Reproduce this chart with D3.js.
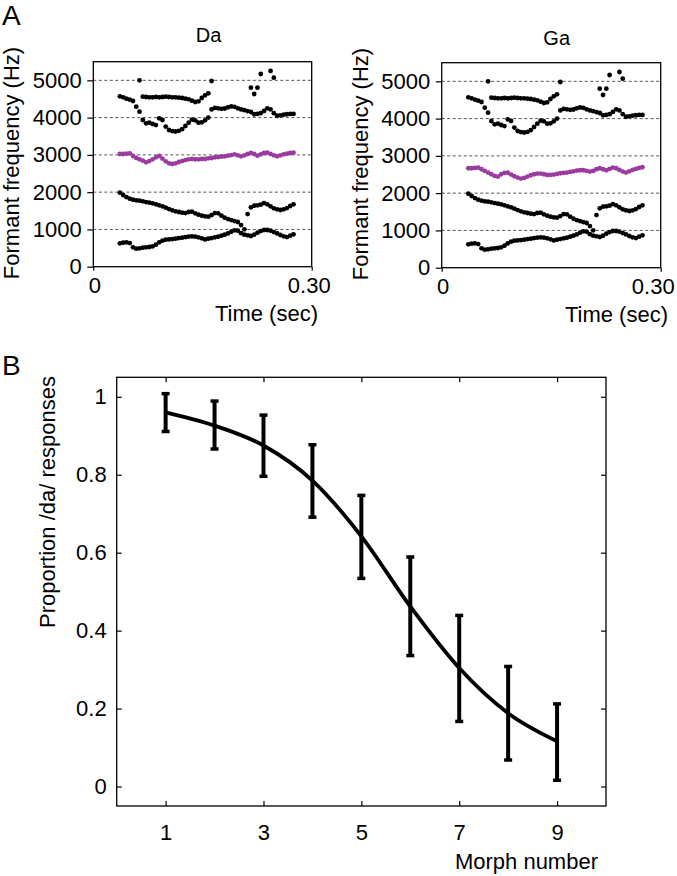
<!DOCTYPE html>
<html>
<head>
<meta charset="utf-8">
<script src="https://cdn.jsdelivr.net/npm/d3@7"></script>
<style>
  html, body { margin: 0; padding: 0; background: #fff; }
  svg { display: block; font-family: "Liberation Sans", Arial, Helvetica, sans-serif; }
</style>
</head>
<body>
<svg id="chart" width="677" height="876"></svg>
<script>
// ---------------- Panel A data (formant tracks, one value per analysis frame) ----------------
const frameStart = 0.0365;   // s, time of first analysis frame
const frameStep = 0.0045;    // s, frame spacing
const F1 = [626,644,653,635,519,483,492,510,519,528, 546,590,653,698,725,733,742,751,769,778,
            796,805,814,805,787,760,733,751,769,787, 805,832,859,894,939,975,966,900,860,841,
            823,859,912,957,984,984,966,930,894,850, 814,796,832,868];
const F2 = [1986,1923,1869,1825,1798,1780,1771,1753,1735,1717, 1699,1673,1646,1619,1583,1547,1512,1485,1467,1449,
            1440,1467,1476,1431,1395,1369,1351,1342,1386,1440, 1431,1369,1315,1279,1252,1225,1199,1118,1002,1413,
            1592,1637,1646,1664,1708,1673,1619,1565,1538,1521, 1538,1574,1628,1673];
const F3_Da = [3023,3023,3032,3041,2970,2916,2880,2844,2800,2835, 2880,2934,2970,2898,2826,2773,2755,2773,2809,2835,
               2862,2880,2889,2880,2880,2889,2889,2907,2916,2934, 2943,2952,2961,2979,2996,3014,2987,2961,2987,3023,
               3050,3023,2979,3014,3050,3059,3023,2987,2961,2987, 3014,3032,3050,3059];
const F3_Ga = [2668,2668,2677,2686,2641,2596,2552,2507,2462,2444, 2507,2543,2552,2498,2453,2417,2390,2408,2444,2480,
               2507,2525,2525,2507,2489,2489,2498,2516,2534,2543, 2552,2570,2587,2605,2614,2614,2596,2578,2596,2641,
               2668,2641,2614,2650,2686,2668,2623,2578,2552,2587, 2623,2650,2677,2695];
const F4 = [4570,4544,4508,4481,4445,4293,4159,3936,3846,3864, 3828,3801,3980,3936,3760,3667,3640,3627,3645,3690,
            3775,3864,3945,3927,3864,3873,3927,4000,4220,4260, 4250,4235,4245,4275,4300,4290,4250,4220,4200,4175,
            4150,4090,4100,4120,4180,4250,4220,4120,4050,4060, 4080,4090,4100,4100];
const F5 = [null,null,null,null,null,null,null,4562,4553,4544, 4544,4553,4544,4553,4562,4553,4544,4544,4535,4526,
            4508,4490,4454,4419,4436,4526,4597,4651,null,null, null,null,null,null,null,null,null,null,null,null,
            null,null,null,null,null,null,null,null,null,null, null,null,null,null];
const highFrames = [6, 28, 40, 41, 42, 43, 46, 47];
const highValues = [5000, 4982, 4803, 4633, 4803, 5170, 5250, 5072];

const freqTicks = [0, 1000, 2000, 3000, 4000, 5000];
const gridFreqs = [1000, 2000, 3000, 4000, 5000];
const timeTicks = [0, 0.30];
const panelTitles = ["Da", "Ga"];

// ---------------- Panel B data ----------------
const morph = [1, 2, 3, 4, 5, 6, 7, 8, 9];
const propDa = [0.960, 0.926, 0.875, 0.785, 0.642, 0.462, 0.304, 0.188, 0.116];
const errHigh = [1.008, 0.989, 0.953, 0.877, 0.747, 0.589, 0.439, 0.308, 0.212];
const errLow = [0.911, 0.866, 0.796, 0.691, 0.534, 0.336, 0.167, 0.068, 0.016];
const morphTicks = [1, 3, 5, 7, 9];
const propTicks = [0, 0.2, 0.4, 0.6, 0.8, 1];

// ---------------- drawing ----------------
const svg = d3.select("#chart");
svg.append("rect").attr("width", 677).attr("height", 876).attr("fill", "#fff");

const PURPLE = "#9a3c9e";
const FS = 22;
const DOT_R = 2.4;

function panelA(cfg) {
  const x = d3.scaleLinear().domain([0, 0.3]).range([cfg.x0, cfg.x1]);
  const y = d3.scaleLinear().domain([0, 5500]).range([cfg.y0, cfg.y1]);
  const g = svg.append("g");

  // dashed grid
  g.selectAll("line.grid").data(gridFreqs).join("line")
    .attr("x1", cfg.x0).attr("x2", cfg.x1)
    .attr("y1", d => y(d)).attr("y2", d => y(d))
    .attr("stroke", "#555").attr("stroke-width", 1).attr("stroke-dasharray", "3,2.5");

  // frame
  g.append("rect").attr("x", cfg.x0).attr("y", cfg.y1)
    .attr("width", cfg.x1 - cfg.x0).attr("height", cfg.y0 - cfg.y1)
    .attr("fill", "none").attr("stroke", "#000").attr("stroke-width", 1.3);

  // axes
  const ya = g.append("g").attr("transform", `translate(${cfg.x0},0)`)
    .call(d3.axisLeft(y).tickValues(freqTicks).tickSizeInner(6).tickSizeOuter(0).tickPadding(5.5).tickFormat(d3.format("d")));
  const xa = g.append("g").attr("transform", `translate(0,${cfg.y0})`)
    .call(d3.axisBottom(x).tickValues(timeTicks).tickSizeInner(4).tickSizeOuter(0).tickPadding(7)
      .tickFormat(d => d === 0 ? "0" : d3.format(".2f")(d)));
  [ya, xa].forEach(a => {
    a.select(".domain").remove();
    a.selectAll("text").attr("font-size", FS).attr("fill", "#000").attr("font-family", "Liberation Sans, Arial, sans-serif");
    a.selectAll("line").attr("stroke", "#000").attr("stroke-width", 1.2);
  });
  xa.selectAll(".tick text").attr("dx", (d, i) => i === 1 ? cfg.lastTickDx : 1);

  // axis labels and title
  g.append("text").attr("transform", `translate(${cfg.ylabX},${cfg.ylabY}) rotate(-90)`)
    .attr("text-anchor", "middle").attr("font-size", FS).text("Formant frequency (Hz)");
  g.append("text").attr("x", cfg.xlabEnd).attr("y", cfg.xlabY).attr("text-anchor", "end")
    .attr("font-size", FS).text("Time (sec)");
  g.append("text").attr("x", cfg.titleX).attr("y", cfg.titleY).attr("text-anchor", "middle")
    .attr("font-size", 20).text(cfg.title);

  const t = i => frameStart + i * frameStep;
  const dotTrack = (vals, color) => {
    const pts = vals.map((v, i) => ({ t: t(i), f: v })).filter(p => p.f !== null);
    g.append("g").selectAll("circle").data(pts).join("circle")
      .attr("cx", p => x(p.t)).attr("cy", p => y(p.f)).attr("r", DOT_R).attr("fill", color);
  };
  dotTrack(F1, "#000");
  dotTrack(F2, "#000");
  dotTrack(F4, "#000");
  dotTrack(F5, "#000");
  dotTrack(cfg.f3, PURPLE);
  const hp = highFrames.map((fr, k) => ({ t: t(fr), f: highValues[k] }));
  g.append("g").selectAll("circle").data(hp).join("circle")
    .attr("cx", p => x(p.t)).attr("cy", p => y(p.f)).attr("r", DOT_R).attr("fill", "#000");
}

panelA({ x0: 93.3, x1: 311.7, y0: 266.7, y1: 61.7, f3: F3_Da, title: panelTitles[0],
         titleX: 208.5, titleY: 42, ylabX: 18.5, ylabY: 163, xlabEnd: 318, xlabY: 321, lastTickDx: -3 });
panelA({ x0: 441.7, x1: 660.7, y0: 267.7, y1: 62.7, f3: F3_Ga, title: panelTitles[1],
         titleX: 556.7, titleY: 45, ylabX: 368, ylabY: 164, xlabEnd: 668, xlabY: 322, lastTickDx: -8 });

// panel letters
svg.append("text").attr("x", 2).attr("y", 25).attr("font-size", 28).text("A");
svg.append("text").attr("x", 2).attr("y", 375).attr("font-size", 28).text("B");

// ---------------- Panel B ----------------
(function () {
  const L = 116.7, R = 606, T = 377.3, B = 806;
  const x = d3.scaleLinear().domain([0, 10]).range([L, R]);
  const y = d3.scaleLinear().domain([-0.05, 1.05]).range([B, T]);
  const g = svg.append("g");

  g.append("rect").attr("x", L).attr("y", T).attr("width", R - L).attr("height", B - T)
    .attr("fill", "none").attr("stroke", "#000").attr("stroke-width", 1.3);

  const fmt = d => String(+d.toFixed(1));
  const axB = g.append("g").attr("transform", `translate(0,${B})`)
    .call(d3.axisBottom(x).tickValues(morphTicks).tickSizeInner(-5).tickSizeOuter(0).tickPadding(18));
  const axT = g.append("g").attr("transform", `translate(0,${T})`)
    .call(d3.axisTop(x).tickValues(morphTicks).tickSizeInner(-5).tickSizeOuter(0).tickFormat(""));
  const axL = g.append("g").attr("transform", `translate(${L},0)`)
    .call(d3.axisLeft(y).tickValues(propTicks).tickSizeInner(-5).tickSizeOuter(0).tickPadding(10).tickFormat(fmt));
  const axR = g.append("g").attr("transform", `translate(${R},0)`)
    .call(d3.axisRight(y).tickValues(propTicks).tickSizeInner(-5).tickSizeOuter(0).tickFormat(""));
  [axB, axT, axL, axR].forEach(a => {
    a.select(".domain").remove();
    a.selectAll("text").attr("font-size", FS).attr("fill", "#000").attr("font-family", "Liberation Sans, Arial, sans-serif");
    a.selectAll("line").attr("stroke", "#000").attr("stroke-width", 1.2);
  });

  g.append("text").attr("transform", `translate(55,502) rotate(-90)`)
    .attr("text-anchor", "middle").attr("font-size", FS).text("Proportion /da/ responses");
  g.append("text").attr("x", 598).attr("y", 869).attr("text-anchor", "end")
    .attr("font-size", FS).text("Morph number");

  const pts = morph.map((m, i) => ({ m, v: propDa[i], lo: errLow[i], hi: errHigh[i] }));

  // curve through the means
  g.append("path").datum(pts)
    .attr("d", d3.line().x(d => x(d.m)).y(d => y(d.v)).curve(d3.curveMonotoneX))
    .attr("fill", "none").attr("stroke", "#000").attr("stroke-width", 3.8);

  // error bars
  const eb = g.append("g").selectAll("g").data(pts).join("g");
  eb.append("line").attr("x1", d => x(d.m)).attr("x2", d => x(d.m))
    .attr("y1", d => y(d.lo)).attr("y2", d => y(d.hi))
    .attr("stroke", "#000").attr("stroke-width", 4);
  eb.append("line").attr("x1", d => x(d.m) - 4).attr("x2", d => x(d.m) + 4)
    .attr("y1", d => y(d.hi)).attr("y2", d => y(d.hi))
    .attr("stroke", "#000").attr("stroke-width", 3.5);
  eb.append("line").attr("x1", d => x(d.m) - 4).attr("x2", d => x(d.m) + 4)
    .attr("y1", d => y(d.lo)).attr("y2", d => y(d.lo))
    .attr("stroke", "#000").attr("stroke-width", 3.5);
})();
</script>
</body>
</html>
